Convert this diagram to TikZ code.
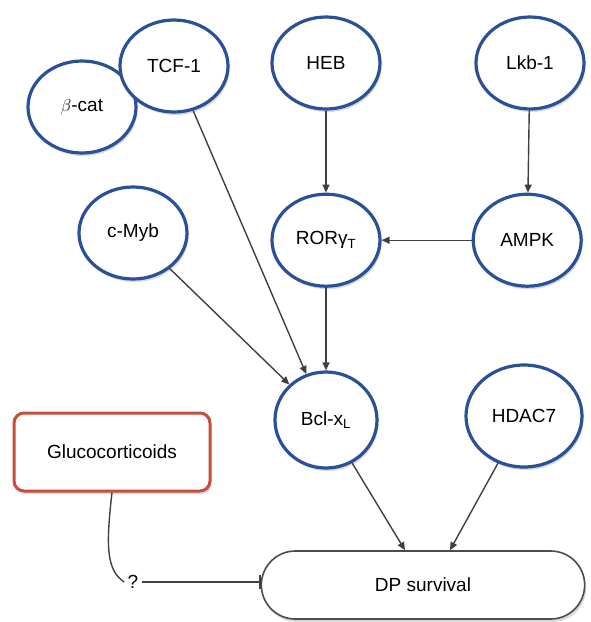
\documentclass[tikz,border=0pt]{standalone}
\usepackage{fontspec}
\setmainfont{Liberation Sans}
\usetikzlibrary{positioning,arrows.meta,shapes.geometric,shapes.misc,shadows}

\definecolor{geneblue}{RGB}{42,80,152}
\definecolor{glucored}{RGB}{198,78,58}

\begin{document}
\begin{tikzpicture}[x=1pt, y=-1pt,
				font=\fontsize{19}{22}\selectfont,
				gene/.style={ellipse, draw=geneblue, line width=3.2pt, fill=white, minimum width=108pt, minimum height=92pt, inner sep=0pt,
					drop shadow={opacity=0.3, shadow xshift=1.5pt, shadow yshift=-3pt}},
				bigone/.style={minimum width=116pt, minimum height=102pt},
				gluco/.style={rectangle, rounded corners=10pt, draw=glucored, line width=3pt, fill=white, minimum width=196pt, minimum height=78pt,
					drop shadow={opacity=0.3, shadow xshift=1.5pt, shadow yshift=-3pt}},
				outcome/.style={rounded rectangle, draw=black!70, line width=1.6pt, fill=white, minimum width=330pt, minimum height=68pt,
					drop shadow={opacity=0.3, shadow xshift=1.5pt, shadow yshift=-3pt}},
				link/.style={draw=black!75, line width=1.4pt, -{Triangle[length=8pt, width=7pt]}}
			]
			\useasboundingbox (0,0) rectangle (591,622);
			\node[gene] (bcat) at (82,107) {$\beta$-cat};
			\node[gene] (tcf) at (174,66) {TCF-1};
			\node[gene] (heb) at (326,63) {HEB};
			\node[gene] (lkb) at (530,63) {Lkb-1};
			\node[gene] (ror) [below=82pt of heb] {RORγ\textsubscript{T}};
			\node[gene] (ampk) [right=90pt of ror] {AMPK};
			\node[gene] (cmyb) at (133,233) {c-Myb};
			\node[gene, minimum width=102pt, minimum height=96pt] (bcl) at (326,420) {Bcl-x\textsubscript{L}};
			\node[gene, bigone] (hdac) at (524,416) {HDAC7};
			\node[gluco] (gluco) at (112,452) {Glucocorticoids};
			\node[outcome] (dp) at (423,585) {DP survival};
			\node (q) at (133,582) {?};
			\draw[link] (heb) -- (ror);
			\draw[link] (lkb) -- (ampk);
			\draw[link] (ampk) -- (ror);
			\draw[link] (tcf) -- (bcl);
			\draw[link] (cmyb) -- (bcl);
			\draw[link] (ror) -- (bcl);
			\draw[link] (bcl) -- ([xshift=-18pt]dp.north);
			\draw[link] (hdac) -- ([xshift=27pt]dp.north);
			\draw[draw=black!75, line width=1.4pt] (gluco.south) .. controls (106,545) and (106,570) .. (q.west);
			\draw[draw=black!75, line width=1.4pt, -{Bar[width=14pt, line width=1.8pt]}] (q.east) -- (q.east -| dp.west);
			\end{tikzpicture}
\end{document}
